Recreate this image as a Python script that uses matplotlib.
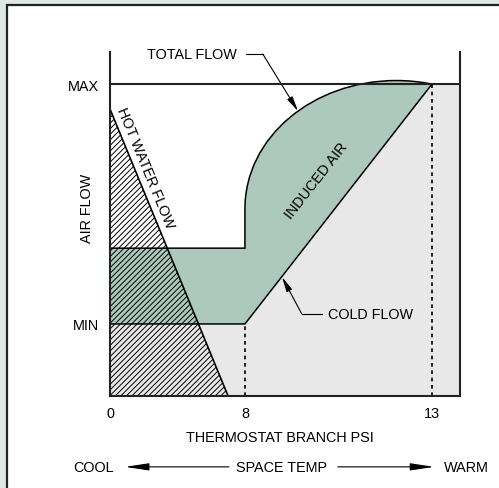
import numpy as np
import matplotlib
matplotlib.use("Agg")
import matplotlib.pyplot as plt
from matplotlib.path import Path
from matplotlib.patches import PathPatch, Polygon, Rectangle

# ---------------- data (read from the schematic) ----------------
psi_ticks = [0, 8, 13]
psi_tick_labels = ["0", "8", "13"]
psi_axis_end = 13.75
flow_ticks = [23.1, 100]
flow_tick_labels = ["MIN", "MAX"]
flow_axis_top = 110.3

hot_psi = [0, 7]
hot_flow = [92, 0]

cold_psi = [0, 8, 13]
cold_flow = [23.1, 23.1, 100]

step_psi = [0, 8, 8]
step_flow = [47.4, 47.4, 60]

# total-flow curve as two cubic bezier segments: (8,60) -> top -> (13,100)
curve_psi = [8, 8, 9.81, 12.05, 12.37, 12.69, 13]
curve_flow = [60, 82.9, 101.15, 101.15, 101.15, 100.76, 100]

# ---------------- style ----------------
FONT = "Liberation Sans"
FS = 10.4
GREEN = "#adc8bc"
GRAY = "#e8e8e8"
BG = "#dfe7e2"
plt.rcParams["font.family"] = [FONT, "DejaVu Sans"]
plt.rcParams["hatch.linewidth"] = 0.7

W, H = 499, 489
fig = plt.figure(figsize=(W / 100, H / 100), dpi=100, facecolor=BG)
fig.add_artist(Rectangle((6.5 / W, -0.1), 2, 1 - 6 / H + 0.1, transform=fig.transFigure,
                         facecolor="white", edgecolor="#222222", lw=1.6, zorder=-5))

ax = fig.add_axes([110 / W, 1 - 397 / H, 350 / W, 344 / H])
ax.patch.set_alpha(0)

k = 0.451  # compression of the 0-8 psi section of the schematic axis


def fwd(x):
    x = np.asarray(x, float)
    return np.where(x <= 8, x * k, 8 * k + (x - 8))


def inv(u):
    u = np.asarray(u, float)
    return np.where(u <= 8 * k, u / k, u - 8 * k + 8)


ax.set_xscale("function", functions=(fwd, inv))
ax.set_xlim(0, psi_axis_end)
ax.set_ylim(0, flow_axis_top)

# gray cold-air region
gray_pts = [(0, 0), (psi_axis_end, 0), (psi_axis_end, flow_ticks[1])] + \
    list(zip(cold_psi[::-1], cold_flow[::-1]))
ax.add_patch(Polygon(gray_pts, closed=True, facecolor=GRAY, edgecolor="none", zorder=1))

# green induced air region
verts = list(zip(cold_psi, cold_flow))
codes = [Path.MOVETO, Path.LINETO, Path.LINETO]
rev_curve = list(zip(curve_psi[::-1], curve_flow[::-1]))
verts += rev_curve[1:]
codes += [Path.CURVE4] * 6
verts += list(zip(step_psi[::-1], step_flow[::-1]))[1:]
codes += [Path.LINETO, Path.LINETO]
verts += [verts[0]]
codes += [Path.CLOSEPOLY]
ax.add_patch(PathPatch(Path(verts, codes), facecolor=GREEN, edgecolor="black",
                       lw=1.1, zorder=2))

# hatched hot water region
ax.add_patch(Polygon([(0, 0), (hot_psi[0], hot_flow[0]), (hot_psi[1], hot_flow[1])],
                     closed=True, fill=False, hatch="//////", edgecolor="black", lw=0, zorder=3))
ax.plot(hot_psi, hot_flow, color="black", lw=1.2, zorder=4)

# max line
ax.plot([0, psi_axis_end], [flow_ticks[1]] * 2, color="#222222", lw=1.5, zorder=4,
        solid_capstyle="butt")

# dashed guides
ax.plot([cold_psi[1]] * 2, [0, cold_flow[1]], color="black", lw=1.2, ls=(0, (2.2, 2.2)), zorder=4)
ax.plot([cold_psi[2]] * 2, [0, cold_flow[2]], color="black", lw=1.2, ls=(0, (2.2, 2.2)), zorder=4)

# spines / ticks
ax.spines["top"].set_visible(False)
for s in ("left", "right", "bottom"):
    ax.spines[s].set_linewidth(1.5)
    ax.spines[s].set_color("#222222")
    ax.spines[s].set_zorder(6)
ax.set_xticks(psi_ticks)
ax.set_xticklabels(psi_tick_labels)
ax.set_yticks(flow_ticks)
ax.set_yticklabels(flow_tick_labels)
ax.xaxis.set_minor_locator(matplotlib.ticker.NullLocator())
ax.tick_params(axis="x", length=0, pad=7, labelsize=FS)
ax.tick_params(axis="y", length=0, pad=8, labelsize=FS)

# annotations
arrow_small = dict(arrowstyle="-|>,head_length=0.9,head_width=0.18", color="black",
                   lw=0.8, shrinkA=0, shrinkB=0)
ax.text(7.53, 109.6, "TOTAL FLOW", ha="right", va="center", fontsize=FS, clip_on=False)
ax.plot([8.03, 8.48], [109.6, 109.6], color="black", lw=0.8, clip_on=False)
ax.annotate("", xy=(9.42, 91.3), xytext=(8.48, 109.6), arrowprops=arrow_small)

ax.text(10.22, 26.3, "COLD FLOW", ha="left", va="center", fontsize=FS)
ax.plot([10.06, 9.52], [26.3, 26.3], color="black", lw=0.8)
ax.annotate("", xy=(8.99, 38.2), xytext=(9.52, 26.3), arrowprops=arrow_small)

ax.text(9.9, 69.2, "INDUCED AIR", rotation=52, rotation_mode="anchor",
        ha="center", va="center", fontsize=FS, zorder=5)
ax.text(2.07, 73.4, "HOT WATER FLOW", rotation=-67.6, rotation_mode="anchor",
        ha="center", va="center", fontsize=FS, zorder=5)
ax.text(-0.066, 0.549, "AIR FLOW", rotation=90, transform=ax.transAxes,
        ha="center", va="center", fontsize=FS)

ax.text(0.486, -0.119, "THERMOSTAT BRANCH PSI", transform=ax.transAxes,
        ha="center", va="center", fontsize=FS, clip_on=False)
ax.text(-0.046, -0.206, "COOL", transform=ax.transAxes,
        ha="center", va="center", fontsize=FS, clip_on=False)
ax.text(0.491, -0.206, "SPACE TEMP", transform=ax.transAxes,
        ha="center", va="center", fontsize=FS, clip_on=False)
ax.text(1.017, -0.206, "WARM", transform=ax.transAxes,
        ha="center", va="center", fontsize=FS, clip_on=False)
arrow_big = dict(arrowstyle="-|>,head_length=1.45,head_width=0.22", color="black",
                 lw=0.8, shrinkA=0, shrinkB=0)
ax.annotate("", xy=(0.043, -0.206), xytext=(0.340, -0.206), xycoords="axes fraction",
            arrowprops=arrow_big)
ax.annotate("", xy=(0.926, -0.206), xytext=(0.651, -0.206), xycoords="axes fraction",
            arrowprops=arrow_big)

fig.savefig("out.png", dpi=100, facecolor=BG)
